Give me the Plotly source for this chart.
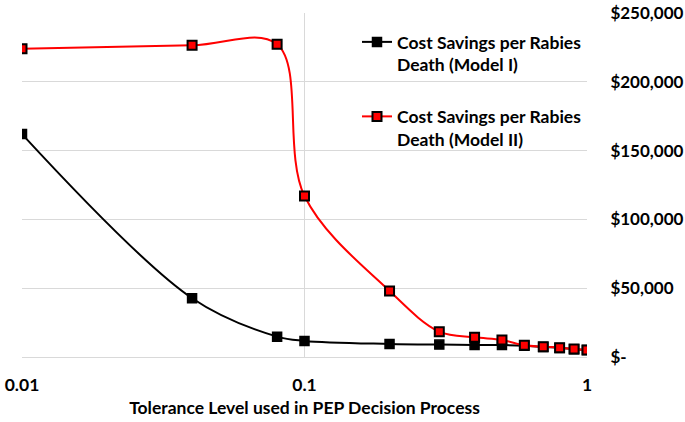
import plotly.graph_objects as go

tolerance = [0.01, 0.04, 0.08, 0.1, 0.2, 0.3, 0.4, 0.5, 0.6, 0.7, 0.8, 0.9, 1.0]
model1 = [162000, 42700, 14800, 11700, 9500, 9000, 8800, 8700, 8200, 7300, 6600, 5700, 5000]
model2 = [224000, 226500, 227300, 117000, 48000, 18400, 14300, 12400, 8500, 7500, 6800, 5800, 5100]
name1 = "Cost Savings per Rabies<br>Death (Model I)"
name2 = "Cost Savings per Rabies<br>Death (Model II)"
ytick_vals = [0, 50000, 100000, 150000, 200000, 250000]
ytick_text = ["$-", "$50,000", "$100,000", "$150,000", "$200,000", "$250,000"]
xtick_vals = [0.01, 0.1, 1]
xtick_text = ["0.01", "0.1", "1"]
x_title = "Tolerance Level used in PEP Decision Process"

FONT = "Lato"
FS = 17.5

fig = go.Figure()
fig.add_trace(go.Scatter(
    x=tolerance, y=model1, name=name1, mode="lines+markers",
    line=dict(color="black", width=2, shape="spline", smoothing=1),
    marker=dict(symbol="square", size=9, color="black", line=dict(color="black", width=1.5)),
    legendgroup="a",
))
fig.add_trace(go.Scatter(
    x=tolerance, y=model2, name=name2, mode="lines+markers",
    line=dict(color="#ff0000", width=2, shape="spline", smoothing=1),
    marker=dict(symbol="square", size=9, color="#ff0000", line=dict(color="black", width=2)),
    legendgroup="b",
))

fig.update_layout(
    width=685, height=422,
    margin=dict(l=22, r=98, t=13, b=65, autoexpand=False),
    paper_bgcolor="white", plot_bgcolor="white",
    font=dict(family=FONT, size=FS, color="black", weight="bold"),
    showlegend=True,
    legend=dict(
        x=1.0, y=0.968, xanchor="right", yanchor="top",
        bgcolor="rgba(0,0,0,0)", tracegroupgap=26, valign="top",
        font=dict(family=FONT, size=FS, color="black", weight="bold"),
        itemwidth=30,
    ),
    xaxis=dict(
        type="log", range=[-2, 0], automargin=False,
        tickvals=xtick_vals, ticktext=xtick_text, ticklabeloverflow="allow",
        showgrid=True, gridcolor="#d9d9d9", gridwidth=1.3,
        showline=True, linecolor="#d9d9d9", linewidth=1.3,
        ticks="outside", ticklen=12, tickcolor="rgba(0,0,0,0)",
        title=dict(text=x_title, font=dict(size=FS), standoff=7),
        zeroline=False, mirror=False,
    ),
    yaxis=dict(
        side="right", range=[0, 250000], automargin=False,
        tickvals=ytick_vals, ticktext=ytick_text, ticklabeloverflow="allow",
        tickfont=dict(size=17),
        showgrid=True, gridcolor="#d9d9d9", gridwidth=1.3,
        ticks="outside", ticklen=19, tickcolor="rgba(0,0,0,0)",
        zeroline=False, showline=False,
    ),
)

fig.write_html(
    "out.html",
    config={"displayModeBar": False},
    post_script="document.body.style.margin='0px';document.body.style.overflow='hidden';",
)
